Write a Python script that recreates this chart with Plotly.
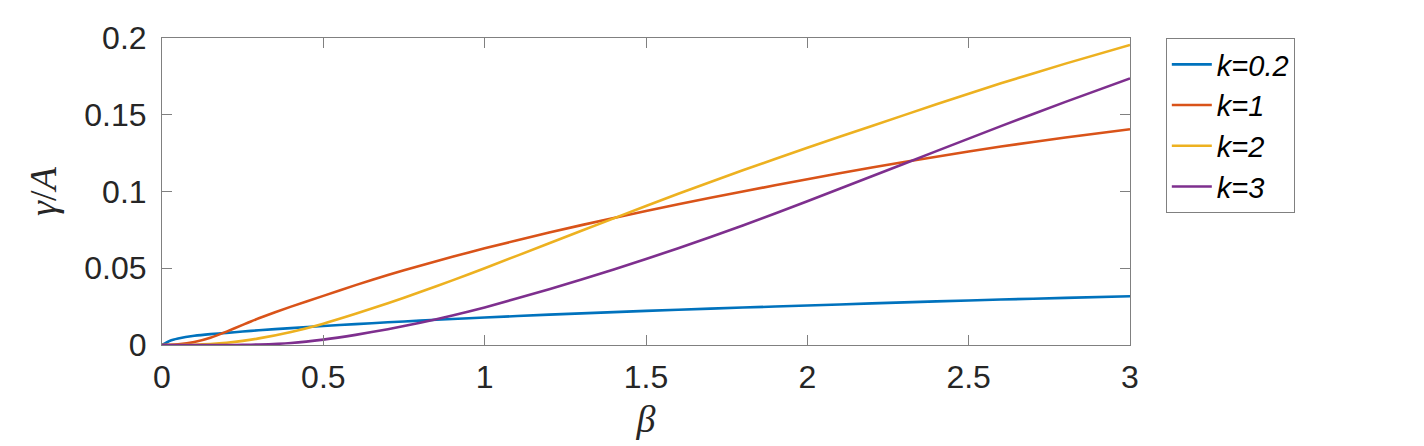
import plotly.graph_objects as go

beta = [0, 0.025, 0.05, 0.1, 0.15, 0.2, 0.25, 0.3, 0.4, 0.5, 0.6, 0.7, 0.8, 0.9, 1.0,
        1.2, 1.4, 1.6, 1.8, 2.0, 2.2, 2.4, 2.6, 2.8, 3.0]

k02 = [0, 0.0028, 0.0042, 0.0060, 0.0071, 0.0079, 0.0088, 0.0096, 0.0110, 0.0124, 0.0136,
       0.0148, 0.0159, 0.0169, 0.0179, 0.0198, 0.0214, 0.0230, 0.0244, 0.0257, 0.0271,
       0.0284, 0.0296, 0.0307, 0.0318]
k1 = [0, 0.0001, 0.0004, 0.0019, 0.0047, 0.0087, 0.0131, 0.0174, 0.0250, 0.0320, 0.0390,
      0.0456, 0.0517, 0.0575, 0.0630, 0.0733, 0.0828, 0.0917, 0.1000, 0.1080, 0.1156,
      0.1227, 0.1293, 0.1352, 0.1406]
k2 = [0, 0, 0, 0.0002, 0.0007, 0.0015, 0.0027, 0.0043, 0.0085, 0.0139, 0.0203,
      0.0272, 0.0345, 0.0421, 0.0500, 0.0663, 0.0825, 0.0985, 0.1138, 0.1285, 0.1427,
      0.1568, 0.1705, 0.1833, 0.1955]
k3 = [0, 0, 0, 0, 0, 0, 0.0001, 0.0003, 0.0013, 0.0035, 0.0066,
      0.0103, 0.0145, 0.0192, 0.0245, 0.0363, 0.0492, 0.0630, 0.0778, 0.0937, 0.1099,
      0.1263, 0.1426, 0.1584, 0.1737]

series = [("<i>k=0.2</i>", k02, "#0072BD"),
          ("<i>k=1</i>", k1, "#D95319"),
          ("<i>k=2</i>", k2, "#EDB120"),
          ("<i>k=3</i>", k3, "#7E2F8E")]

xticks = [0, 0.5, 1, 1.5, 2, 2.5, 3]
yticks = [0, 0.05, 0.1, 0.15, 0.2]

fig = go.Figure()
for name, ys, col in series:
    fig.add_trace(go.Scatter(x=beta, y=ys, mode="lines", name=name,
                             line=dict(color=col, width=2.6, shape="spline", smoothing=0.5)))

axis_common = dict(showgrid=False, zeroline=False, showline=True, linecolor="#808080",
                   linewidth=1, mirror="ticks", ticks="inside", ticklen=10,
                   tickcolor="#808080", tickwidth=1,
                   tickfont=dict(family="Liberation Sans, Arial", size=32, color="#262626"))

# The page body has an 8px default margin, so the figure is sized to fit the window
fig.update_layout(
    width=1416, height=438,
    margin=dict(l=154, r=294, t=25, b=101),
    paper_bgcolor="white", plot_bgcolor="white",
    xaxis=dict(range=[0, 3], tickvals=xticks, ticktext=[str(v) for v in xticks],
               title=dict(text="<i>β</i>", font=dict(family="Liberation Serif", size=38, color="#262626"),
                          standoff=10),
               ticklabelstandoff=4,
               **axis_common),
    yaxis=dict(range=[0, 0.2], tickvals=yticks, ticktext=["0", "0.05", "0.1", "0.15", "0.2"],
               title=dict(text="<i>γ</i>/<i>A</i>", font=dict(family="Liberation Serif", size=38, color="#262626"),
                          standoff=16),
               ticklabelstandoff=8,
               **axis_common),
    legend=dict(x=1.037, y=1.0, xanchor="left", yanchor="top",
                bordercolor="#808080", borderwidth=1, bgcolor="white",
                font=dict(family="Liberation Sans, Arial", size=29, color="#000000"),
                itemwidth=40, tracegroupgap=0),
    showlegend=True,
)

fig.write_html("out.html")
